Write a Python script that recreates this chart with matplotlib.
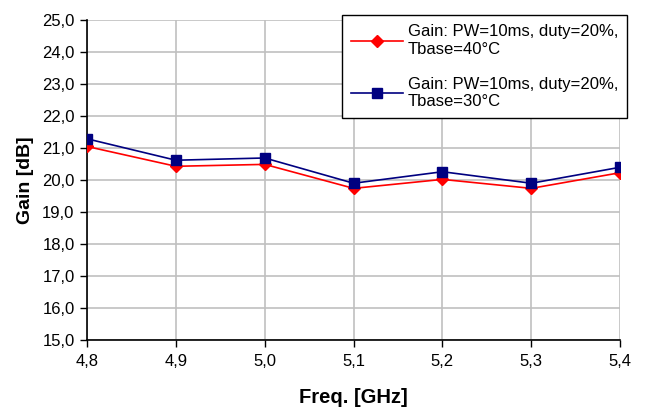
import matplotlib
matplotlib.use("Agg")
import matplotlib.pyplot as plt

freq = [4.8, 4.9, 5.0, 5.1, 5.2, 5.3, 5.4]
gain_40 = [21.05, 20.43, 20.49, 19.74, 20.02, 19.74, 20.23]
gain_30 = [21.29, 20.62, 20.69, 19.90, 20.26, 19.90, 20.40]
label_40 = "Gain: PW=10ms, duty=20%,\nTbase=40°C"
label_30 = "Gain: PW=10ms, duty=20%,\nTbase=30°C"
yticks = [15, 16, 17, 18, 19, 20, 21, 22, 23, 24, 25]

plt.rcParams['font.family'] = ['Liberation Sans', 'DejaVu Sans']

fig = plt.figure(figsize=(6.47, 4.12), dpi=100)
ax = fig.add_axes([0.1345, 0.175, 0.824, 0.776])

ax.plot(freq, gain_40, color='#ff0000', marker='D', markersize=6, lw=1.2, label=label_40, zorder=3)
ax.plot(freq, gain_30, color='#000080', marker='s', markersize=7.5, lw=1.2, label=label_30, zorder=4)

ax.set_xlim(4.8, 5.4)
ax.set_ylim(15, 25)
ax.set_xticks(freq)
ax.set_xticklabels([f"{v:.1f}".replace('.', ',') for v in freq])
ax.set_yticks(yticks)
ax.set_yticklabels([f"{v:.1f}".replace('.', ',') for v in yticks])
ax.grid(True, color='#c0c0c0', lw=1.2)
ax.set_axisbelow(True)
for s in ['top', 'right']:
    ax.spines[s].set_visible(False)
for s in ['left', 'bottom']:
    ax.spines[s].set_color('black')
    ax.spines[s].set_linewidth(1.2)
ax.tick_params(axis='both', direction='out', length=5, width=1, labelsize=12, colors='black', pad=4)
ax.tick_params(axis='x', pad=5)

ax.set_xlabel("Freq. [GHz]", fontsize=14.5, fontweight='bold', labelpad=14)
ax.set_ylabel("Gain [dB]", fontsize=14, fontweight='bold', labelpad=6)

leg = ax.legend(loc='upper right', bbox_to_anchor=(1.013, 1.0156), borderaxespad=0,
                frameon=True, fancybox=False,
                edgecolor='black', fontsize=12, handlelength=3.1, labelspacing=1.2,
                borderpad=0.55, handletextpad=0.3)
leg.get_frame().set_linewidth(1.0)
leg.get_frame().set_alpha(1)

fig.savefig("out.png", dpi=100)
